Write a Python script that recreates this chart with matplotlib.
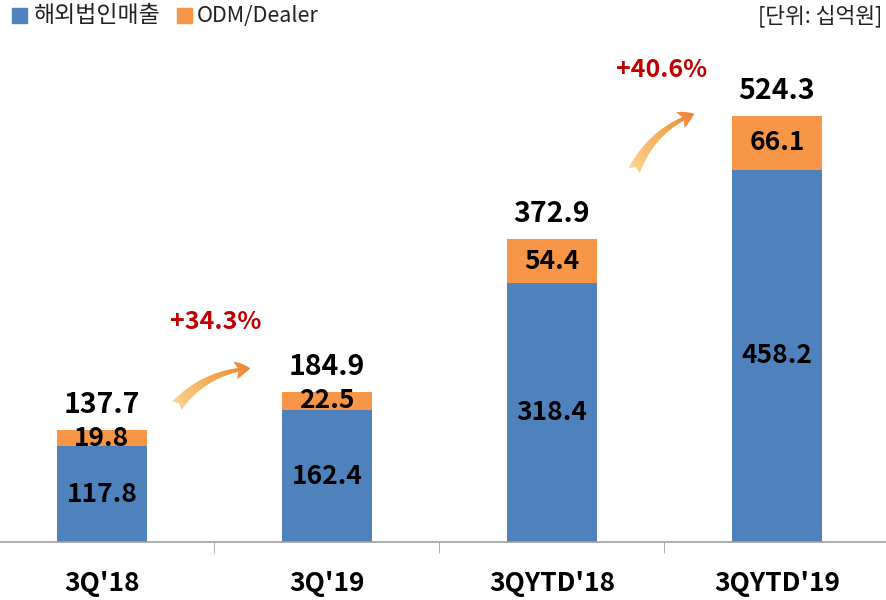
import numpy as np
import matplotlib.pyplot as plt
from matplotlib.patches import FancyArrowPatch
from matplotlib.colors import LinearSegmentedColormap

plt.rcParams['font.family'] = ['Noto Sans CJK KR', 'DejaVu Sans']

categories = ["3Q'18", "3Q'19", "3QYTD'18", "3QYTD'19"]
overseas = [117.8, 162.4, 318.4, 458.2]
odm = [19.8, 22.5, 54.4, 66.1]
totals = [137.7, 184.9, 372.9, 524.3]
growth = ['+34.3%', '+40.6%']

blue = '#4F81BD'
orange = '#F79646'

fig = plt.figure(figsize=(8.87, 6.0), dpi=100)
# axes spans a bit past the figure edges so the category bands line up
ax = fig.add_axes([-10.5 / 887, 1 - 542 / 600, 900 / 887, 542 / 600])

x = np.arange(len(categories))
w = 0.4
ax.bar(x, overseas, w, color=blue, zorder=2)
ax.bar(x, odm, w, bottom=overseas, color=orange, zorder=2)

for i in range(len(x)):
    ax.text(x[i], overseas[i] / 2, '%.1f' % overseas[i], ha='center', va='center',
            fontsize=19, fontweight='bold', color='black')
    ax.text(x[i], overseas[i] + odm[i] / 2, '%.1f' % odm[i], ha='center', va='center',
            fontsize=19, fontweight='bold', color='black')
    ax.annotate('%.1f' % totals[i], (x[i], totals[i]), xytext=(0, 8),
                textcoords='offset points', ha='center', va='bottom',
                fontsize=20.5, fontweight='bold', color='black')

ax.set_xlim(-0.5, 3.5)
ax.set_ylim(0, 667)

# growth arrows between the pairs of bars, filled with a light-to-dark orange gradient
cmap = LinearSegmentedColormap.from_list('arr', ['#FBE3A8', '#F5B05A', '#E9772E'])
arrows = [((0.324, 165), (0.671, 214), (0.507, 271)),
          ((2.36, 454), (2.644, 528), (2.489, 581))]
for k, (p0, p1, tx) in enumerate(arrows):
    arr = FancyArrowPatch(p0, p1, connectionstyle='arc3,rad=-0.22',
                          arrowstyle='fancy,head_length=11,head_width=13,tail_width=9',
                          facecolor='none', edgecolor='none', lw=0, zorder=3)
    ax.add_patch(arr)
    gx, gy = np.meshgrid(np.linspace(0, 1, 60), np.linspace(0, 1, 60))
    grad = 0.6 * gx + 0.4 * gy
    im = ax.imshow(grad, extent=[p0[0] - 0.05, p1[0] + 0.02, p0[1] - 15, p1[1] + 15],
                   origin='lower', aspect='auto', cmap=cmap, zorder=3)
    im.set_clip_path(arr)
    ax.text(tx[0], tx[1], growth[k], ha='center', va='center', fontsize=18,
            fontweight='bold', color='#C00000')

ax.set_xlim(-0.5, 3.5)
ax.set_ylim(0, 667)
ax.set_xticks(x)
ax.set_xticklabels(categories, fontsize=19, fontweight='bold')
ax.set_xticks([0.5, 1.5, 2.5], minor=True)
ax.tick_params(axis='x', which='major', length=0, pad=20)
ax.tick_params(axis='x', which='minor', length=8, color='#A0A0A0', direction='out')
ax.set_yticks([])
for s in ['top', 'right', 'left']:
    ax.spines[s].set_visible(False)
ax.spines['bottom'].set_color('#A0A0A0')
ax.spines['bottom'].set_linewidth(1.2)

# legend and unit note
fig.patches.append(plt.Rectangle((12 / 887, 1 - 23 / 600), 15 / 887, 15 / 600,
                                 transform=fig.transFigure, color=blue))
fig.text(34 / 887, 1 - 16 / 600, '해외법인매출', fontsize=16.5, va='center', color='#222222')
fig.patches.append(plt.Rectangle((177 / 887, 1 - 23 / 600), 15 / 887, 15 / 600,
                                 transform=fig.transFigure, color=orange))
fig.text(197 / 887, 1 - 16 / 600, 'ODM/Dealer', fontsize=15.5, va='center', color='#222222')
fig.text(882 / 887, 1 - 16 / 600, '[단위: 십억원]', fontsize=15.5, va='center', ha='right',
         color='#222222')

fig.savefig('out.png', dpi=100)
